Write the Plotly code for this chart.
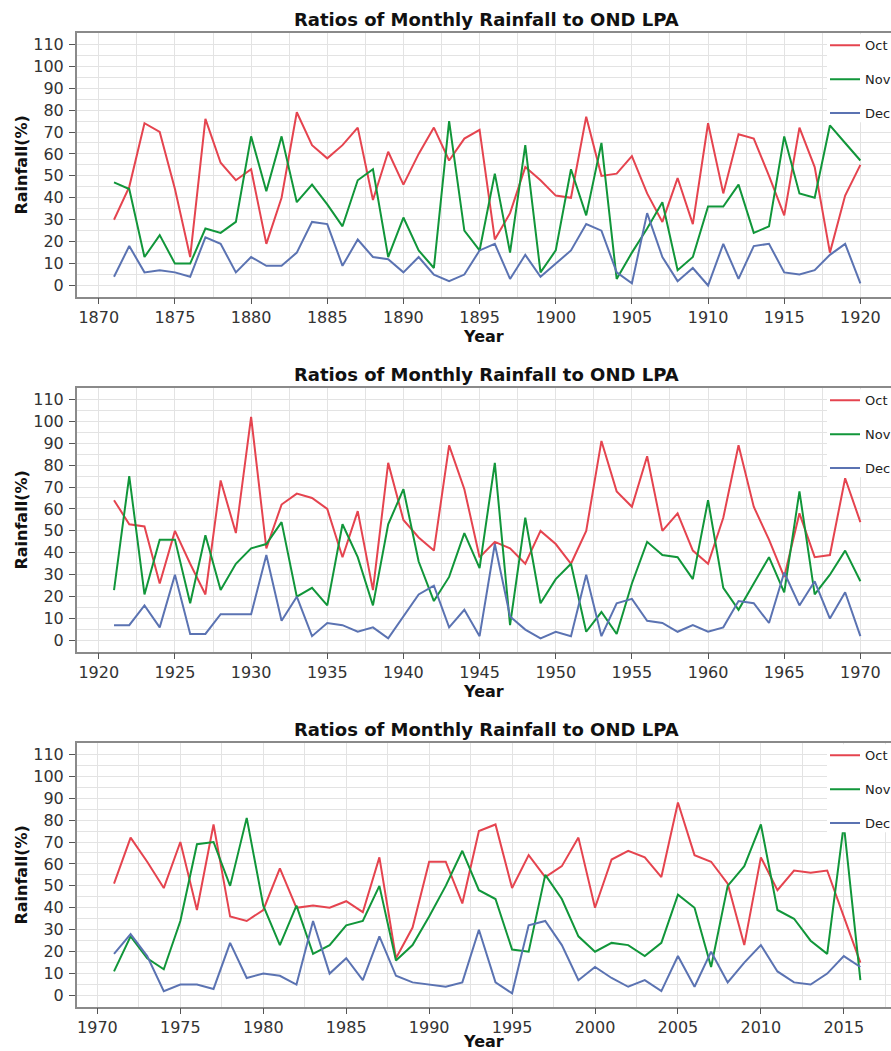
import plotly.graph_objects as go

# ---------------- data ----------------
years_1 = list(range(1871, 1921))
oct_1 = [30, 45, 74, 70, 44, 13, 76, 56, 48, 53, 19, 40, 79, 64, 58, 64,
         72, 39, 61, 46, 60, 72, 57, 67, 71, 21, 33, 54, 48, 41, 40, 77, 50, 51,
         59, 42, 29, 49, 28, 74, 42, 69, 67, 50, 32, 72, 54, 15, 41, 55]
nov_1 = [47, 44, 13, 23, 10, 10, 26, 24, 29, 68, 43, 68, 38, 46, 37, 27,
         48, 53, 13, 31, 16, 8, 75, 25, 16, 51, 15, 64, 6, 16, 53, 32, 65, 3,
         15, 26, 38, 7, 13, 36, 36, 46, 24, 27, 68, 42, 40, 73, 65, 57]
dec_1 = [4, 18, 6, 7, 6, 4, 22, 19, 6, 13, 9, 9, 15, 29, 28, 9,
         21, 13, 12, 6, 13, 5, 2, 5, 16, 19, 3, 14, 4, 10, 16, 28, 25, 6,
         1, 33, 13, 2, 8, 0, 19, 3, 18, 19, 6, 5, 7, 14, 19, 1]

years_2 = list(range(1921, 1971))
oct_2 = [64, 53, 52, 26, 50, 35, 21, 73, 49, 102, 42, 62, 67, 65, 60, 38,
         59, 23, 81, 55, 47, 41, 89, 69, 38, 45, 42, 35, 50, 44, 35, 50, 91, 68,
         61, 84, 50, 58, 41, 35, 56, 89, 61, 46, 29, 58, 38, 39, 74, 54]
nov_2 = [23, 75, 21, 46, 46, 17, 48, 23, 35, 42, 44, 54, 20, 24, 16, 53,
         38, 16, 53, 69, 36, 18, 29, 49, 33, 81, 7, 56, 17, 28, 35, 4, 13, 3,
         26, 45, 39, 38, 28, 64, 24, 14, 26, 38, 22, 68, 21, 30, 41, 27]
dec_2 = [7, 7, 16, 6, 30, 3, 3, 12, 12, 12, 39, 9, 20, 2, 8, 7,
         4, 6, 1, 11, 21, 25, 6, 14, 2, 44, 11, 5, 1, 4, 2, 30, 2, 17,
         19, 9, 8, 4, 7, 4, 6, 18, 17, 8, 31, 16, 27, 10, 22, 2]

years_3 = list(range(1971, 2017))
oct_3 = [51, 72, 61, 49, 70, 39, 78, 36, 34, 39, 58, 40, 41, 40, 43,
         38, 63, 17, 31, 61, 61, 42, 75, 78, 49, 64, 54, 59, 72, 40,
         62, 66, 63, 54, 88, 64, 61, 51, 23, 63, 48, 57, 56, 57, 36, 15]
nov_3 = [11, 27, 17, 12, 34, 69, 70, 50, 81, 41, 23, 41, 19, 23, 32,
         34, 50, 16, 23, 36, 50, 66, 48, 44, 21, 20, 55, 44, 27, 20,
         24, 23, 18, 24, 46, 40, 13, 50, 59, 78, 39, 35, 25, 19, 78, 7]
dec_3 = [19, 28, 18, 2, 5, 5, 3, 24, 8, 10, 9, 5, 34, 10, 17,
         7, 27, 9, 6, 5, 4, 6, 30, 6, 1, 32, 34, 23, 7, 13,
         8, 4, 7, 2, 18, 4, 20, 6, 15, 23, 11, 6, 5, 10, 18, 13]

series_names = ["Oct", "Nov", "Dec"]
title_text = "Ratios of Monthly Rainfall to OND LPA"
y_ticks = list(range(0, 120, 10))

panels = [
    (years_1, [oct_1, nov_1, dec_1]),
    (years_2, [oct_2, nov_2, dec_2]),
    (years_3, [oct_3, nov_3, dec_3]),
]

# ---------------- style ----------------
W, H = 891, 1051
FONT = "DejaVu Sans"
colors = ["#e5444f", "#11963a", "#5b73b2"]
grid_c = "#e3e3e3"
axis_c = "#8a8a8a"

# plot area positions (pixels from top)
plot_tops = [33.3, 388.3, 743.3]
plot_h = 263.2
left_px = 76.7
full_w = 821.0          # full plot width (extends a bit past the window)
vis_frac = (W - left_px) / full_w

fig = go.Figure()

for i, (yrs, vals) in enumerate(panels):
    suf = "" if i == 0 else str(i + 1)
    leg = "legend" + suf
    for name, v, c in zip(series_names, vals, colors):
        fig.add_trace(go.Scatter(
            x=yrs, y=v, mode="lines", name=name,
            line=dict(color=c, width=2),
            xaxis="x" + suf, yaxis="y" + suf,
            legend=leg, legendgroup=f"p{i}{name}",
        ))

    # bokeh-like range padding
    span = (yrs[-1] - yrs[0])
    x0 = yrs[0] - 0.05 * span
    x1 = x0 + 1.1 * span * vis_frac

    top = plot_tops[i]
    y_top = 1 - top / H
    y_bot = 1 - (top + plot_h) / H

    tick5 = (yrs[0] // 5) * 5
    fig.layout["xaxis" + suf] = dict(
        domain=[left_px / W, 1.0], anchor="y" + suf,
        range=[x0, x1], tick0=tick5, dtick=5,
        showgrid=True, gridcolor=grid_c, gridwidth=1,
        minor=dict(dtick=2.5, tick0=tick5, showgrid=True, gridcolor=grid_c, gridwidth=1),
        showline=True, linecolor=axis_c, linewidth=1.5, mirror=True,
        ticks="outside", ticklen=6, tickcolor="#555", tickwidth=1.2,
        tickfont=dict(family=FONT, size=16, color="#333"),
        title=dict(text="<b>Year</b>", font=dict(family=FONT, size=16, color="#111"), standoff=2),
        zeroline=False,
    )
    fig.layout["yaxis" + suf] = dict(
        domain=[y_bot, y_top], anchor="x" + suf,
        range=[-5, 115], tickvals=y_ticks,
        showgrid=True, gridcolor=grid_c, gridwidth=1,
        minor=dict(dtick=5, tick0=0, showgrid=True, gridcolor=grid_c, gridwidth=1),
        showline=True, linecolor=axis_c, linewidth=1.5, mirror=False,
        ticks="outside", ticklen=6, tickcolor="#555", tickwidth=1.2,
        tickfont=dict(family=FONT, size=16, color="#333"),
        ticklabelstandoff=2,
        title=dict(text="<b>Rainfall(%)</b>", font=dict(family=FONT, size=16, color="#111"), standoff=2),
        zeroline=False,
    )
    fig.layout[leg] = dict(
        x=825 / W, xanchor="left", y=y_top + 3 / H, yanchor="top",
        bgcolor="rgba(255,255,255,0)", borderwidth=0,
        font=dict(family=FONT, size=13, color="#222"),
        traceorder="grouped", tracegroupgap=14,
    )
    # white box behind the legend (covers grid like the reference)
    fig.add_shape(
        type="rect", xref="paper", yref="paper", layer="above",
        x0=827 / W, x1=1.0, y0=1 - (top + 89) / H, y1=y_top - 1 / H,
        fillcolor="white", line=dict(width=0),
    )
    fig.add_annotation(
        text="<b>" + title_text + "</b>", xref="paper", yref="paper",
        x=487 / W, y=1 - (top - 13.5) / H, xanchor="center", yanchor="middle",
        showarrow=False, font=dict(family=FONT, size=18, color="#111"),
    )

fig.update_layout(
    width=W, height=H,
    margin=dict(l=0, r=0, t=0, b=0, autoexpand=False),
    paper_bgcolor="white", plot_bgcolor="white",
    showlegend=True,
)

fig.write_html(
    "out.html",
    config={"displayModeBar": False},
    post_script="document.body.style.margin='0';document.body.style.overflow='hidden';",
)
